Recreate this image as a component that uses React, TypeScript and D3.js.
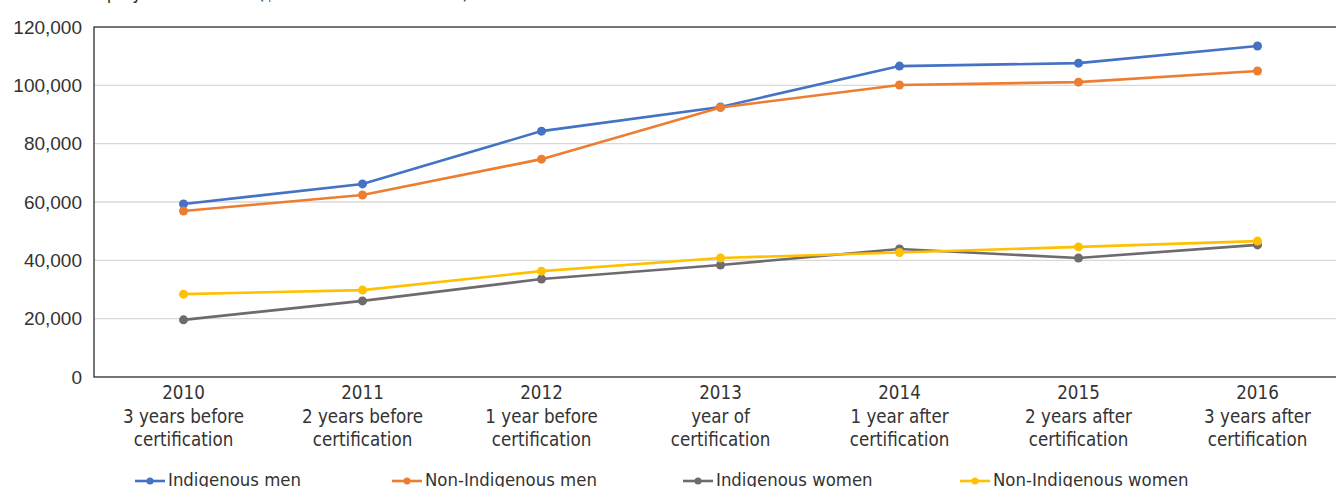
import React from "react";
import * as d3 from "d3";

const years = ["2010", "2011", "2012", "2013", "2014", "2015", "2016"];
const periods = [
  ["3 years before", "certification"],
  ["2 years before", "certification"],
  ["1 year before", "certification"],
  ["year of", "certification"],
  ["1 year after", "certification"],
  ["2 years after", "certification"],
  ["3 years after", "certification"],
];
const indigenousMen = [59300, 66200, 84300, 92600, 106600, 107600, 113500];
const nonIndigenousMen = [56900, 62400, 74700, 92400, 100100, 101100, 104900];
const indigenousWomen = [19600, 26100, 33600, 38400, 43900, 40800, 45300];
const nonIndigenousWomen = [28400, 29800, 36300, 40800, 42700, 44600, 46600];
const yTicks = [0, 20000, 40000, 60000, 80000, 100000, 120000];

const seriesNames = ["Indigenous men", "Non-Indigenous men", "Indigenous women", "Non-Indigenous women"];
const seriesColors = ["#4472C4", "#ED7D31", "#6E6A70", "#FFC000"];
const seriesValues = [indigenousMen, nonIndigenousMen, indigenousWomen, nonIndigenousWomen];
const legendX = [135, 392, 683, 960];

const W = 1336;
const H = 487;
const left = 94;
const plotTop = 27;
const plotBottom = 377;
const bandWidth = 179;

export default function App() {
  const x = d3
    .scaleBand<string>()
    .domain(years)
    .range([left, left + bandWidth * years.length]);
  const y = d3.scaleLinear().domain([0, 120000]).range([plotBottom, plotTop]);
  const cx = (yr: string) => (x(yr) ?? 0) + x.bandwidth() / 2;
  const line = d3
    .line<number>()
    .x((_, i) => cx(years[i]))
    .y((v) => y(v));
  const fmt = d3.format(",");
  const condensed = "'DejaVu Sans Condensed', 'DejaVu Sans', sans-serif";
  const right = left + bandWidth * years.length;

  return (
    <svg
      width={W}
      height={H}
      style={{ position: "absolute", left: 0, top: 0, background: "#fff" }}
    >
      <text x={80} y={-1} fontFamily={condensed} fontSize={18.6} fill="#333">
        Employment income ($ constant 2016 dollars)
      </text>
      {yTicks.map((t) => (
        <g key={t}>
          {t > 0 && t < 120000 && (
            <line x1={left} x2={right} y1={y(t)} y2={y(t)} stroke="#d9d9d9" strokeWidth={1.3} />
          )}
          <text
            x={82}
            y={y(t) + 6.5}
            textAnchor="end"
            fontFamily="'Liberation Sans', Arial, sans-serif"
            fontSize={19}
            fill="#333"
          >
            {fmt(t)}
          </text>
        </g>
      ))}
      <rect
        x={left}
        y={plotTop}
        width={right - left}
        height={plotBottom - plotTop}
        fill="none"
        stroke="#2b2b2b"
        strokeWidth={1.3}
      />
      {years.map((yr, i) => (
        <text
          key={yr}
          x={cx(yr)}
          textAnchor="middle"
          fontFamily={condensed}
          fontSize={18.6}
          fill="#333"
        >
          <tspan x={cx(yr)} y={399}>{yr}</tspan>
          <tspan x={cx(yr)} y={422.5}>{periods[i][0]}</tspan>
          <tspan x={cx(yr)} y={446}>{periods[i][1]}</tspan>
        </text>
      ))}
      {seriesValues.map((vals, s) => (
        <g key={seriesNames[s]}>
          <path d={line(vals) ?? ""} fill="none" stroke={seriesColors[s]} strokeWidth={2.6} />
          {vals.map((v, i) => (
            <circle key={i} cx={cx(years[i])} cy={y(v)} r={4.5} fill={seriesColors[s]} />
          ))}
        </g>
      ))}
      {seriesNames.map((name, s) => (
        <g key={name} transform={`translate(${legendX[s]},481)`}>
          <line x1={0} x2={30} y1={0} y2={0} stroke={seriesColors[s]} strokeWidth={2.6} />
          <circle cx={15} cy={0} r={3.5} fill={seriesColors[s]} />
          <text x={33} y={4.5} fontFamily={condensed} fontSize={18.4} fill="#333">
            {name}
          </text>
        </g>
      ))}
    </svg>
  );
}
